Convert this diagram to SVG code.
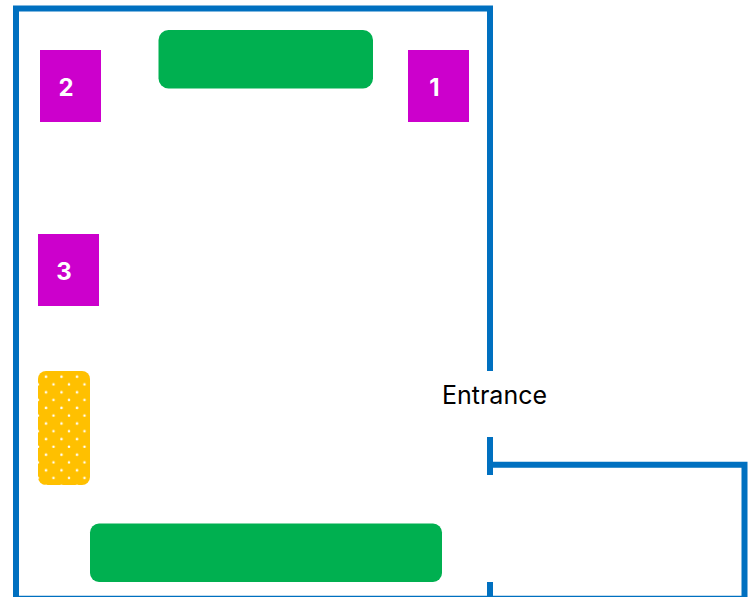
<svg xmlns="http://www.w3.org/2000/svg" width="754" height="597" viewBox="0 0 754 597">
<style>
.wall{fill:none;stroke:#0070c0;stroke-width:6}
.table{fill:#00b050}
.box{fill:#cc00cc}
.num{font-family:"Inter","Noto Sans",sans-serif;font-size:24px;font-weight:700;fill:#fff;text-anchor:middle}
.lbl{font-family:"Inter","Noto Sans",sans-serif;font-size:25px;fill:#000;text-anchor:middle}
</style>
<defs>
<pattern id="dots" patternUnits="userSpaceOnUse" x="38" y="369" width="15.5" height="15.6">
<circle cx="8" cy="7.700" r="1.250" fill="#fff"/>
<circle cx="0" cy="15.400" r="1.250" fill="#fff"/>
<circle cx="15.500" cy="15.400" r="1.250" fill="#fff"/>
<circle cx="0" cy="-0.200" r="1.250" fill="#fff"/>
<circle cx="15.500" cy="-0.200" r="1.250" fill="#fff"/>
</pattern>
</defs>
<rect width="754" height="597" fill="#fff"/>
<g id="walls">
<path class="wall" d="M16 597V8.500H490V371"/>
<path class="wall" d="M490 437V475"/>
<path class="wall" d="M490 582V597"/>
<path class="wall" d="M490 464.700H744.500V597"/>
<path d="M13 596.500H747" fill="none" stroke="#0070c0" stroke-width="1.500"/>
</g>
<g id="table-top"><rect class="table" x="158.500" y="30" width="214.500" height="58.500" rx="10"/></g>
<g id="table-bottom"><rect class="table" x="90" y="523.500" width="352" height="58.500" rx="9"/></g>
<g id="box-1"><rect class="box" x="408" y="50" width="61" height="72"/><text class="num" x="434.500" y="96">1</text></g>
<g id="box-2"><rect class="box" x="40" y="50" width="61" height="72"/><text class="num" x="66" y="96">2</text></g>
<g id="box-3"><rect class="box" x="38" y="234" width="61" height="72"/><text class="num" x="64" y="280">3</text></g>
<g id="bench"><rect x="38" y="371" width="52" height="114" rx="8" fill="#ffc000"/><rect x="38" y="371" width="52" height="114" rx="8" fill="url(#dots)"/></g>
<g id="entrance"><text class="lbl" x="494.500" y="404">Entrance</text></g>
</svg>
